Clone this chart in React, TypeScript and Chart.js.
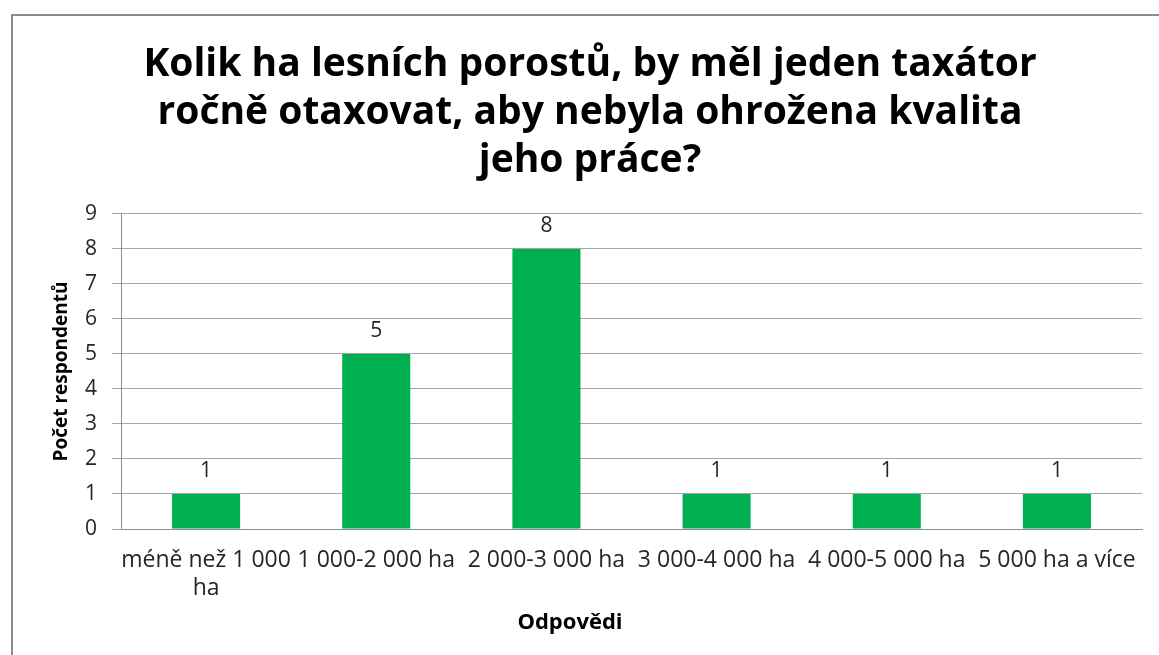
import React, { useEffect, useRef } from "react";
import { Chart, registerables } from "chart.js";

Chart.register(...registerables);

const categories: (string | string[])[] = [
  ["méně než 1 000", "ha"],
  "1 000-2 000 ha",
  "2 000-3 000 ha",
  "3 000-4 000 ha",
  "4 000-5 000 ha",
  "5 000 ha a více",
];
const respondents = [1, 5, 8, 1, 1, 1];
const titleLines = [
  "Kolik ha lesních porostů, by měl jeden taxátor",
  "ročně otaxovat, aby nebyla ohrožena kvalita",
  "jeho práce?",
];
const yAxisTitle = "Počet respondentů";
const xAxisTitle = "Odpovědi";

const FONT = "'Open Sans', 'Liberation Sans', sans-serif";

const frame = {
  id: "frame",
  beforeDraw(chart: any) {
    const ctx = chart.ctx;
    ctx.save();
    ctx.fillStyle = "#ffffff";
    ctx.fillRect(0, 0, chart.width, chart.height);
    ctx.strokeStyle = "#8c8c8c";
    ctx.lineWidth = 2;
    ctx.strokeRect(12, 15, chart.width + 20, chart.height + 20);
    ctx.restore();
  },
  afterDraw(chart: any) {
    const ctx = chart.ctx;
    ctx.save();
    ctx.fillStyle = "#000000";
    ctx.font = `bold 22px ${FONT}`;
    ctx.textAlign = "center";
    ctx.textBaseline = "middle";
    ctx.fillText(xAxisTitle, 570, chart.height - 32);
    ctx.restore();
  },
};

const valueLabels = {
  id: "valueLabels",
  afterDatasetsDraw(chart: any) {
    const ctx = chart.ctx;
    const meta = chart.getDatasetMeta(0);
    ctx.save();
    ctx.fillStyle = "#262626";
    ctx.font = `21px ${FONT}`;
    ctx.textAlign = "center";
    ctx.textBaseline = "middle";
    meta.data.forEach((bar: any, i: number) => {
      ctx.fillText(String(chart.data.datasets[0].data[i]), bar.x, bar.y - 23);
    });
    ctx.restore();
  },
};

export default function App() {
  const ref = useRef<HTMLCanvasElement>(null);
  useEffect(() => {
    document.body.style.margin = "0";
    const chart = new Chart(ref.current!, {
      type: "bar",
      data: {
        labels: categories,
        datasets: [
          {
            data: respondents,
            backgroundColor: "#00B050",
            borderWidth: 0,
            barPercentage: 0.4,
            categoryPercentage: 1,
          },
        ],
      },
      options: {
        animation: false,
        responsive: false,
        layout: { padding: { left: 38, right: 17, top: 0, bottom: 0 } },
        plugins: {
          legend: { display: false },
          tooltip: { enabled: false },
          title: {
            display: true,
            text: titleLines,
            color: "#000000",
            font: { family: FONT, size: 39, weight: "bold", lineHeight: 1.23 },
            padding: { top: 41, bottom: 29 },
          },
        },
        scales: {
          x: {
            grid: { display: false, drawTicks: false },
            border: { color: "#8c8c8c", width: 1 },
            ticks: {
              color: "#262626",
              font: { family: FONT, size: 23, lineHeight: 1.2 },
              padding: 18,
              maxRotation: 0,
              autoSkip: false,
            },
            title: { display: false },
            afterFit(scale: any) {
              scale.height = 126;
            },
          },
          y: {
            min: 0,
            max: 9,
            ticks: {
              stepSize: 1,
              color: "#262626",
              font: { family: FONT, size: 21 },
              padding: 15,
            },
            grid: { color: "#a6a6a6", tickLength: 9, lineWidth: 1 },
            border: { color: "#8c8c8c", width: 1 },
            title: {
              display: true,
              text: yAxisTitle,
              color: "#000000",
              font: { family: FONT, size: 19, weight: "bold" },
              padding: { top: 12, bottom: 0 },
            },
            afterFit(scale: any) {
              scale.width = 83;
            },
          },
        },
      },
      plugins: [frame, valueLabels],
    });
    return () => chart.destroy();
  }, []);
  return (
    <div style={{ position: "absolute", left: 0, top: 0, width: 1159, height: 655 }}>
      <canvas ref={ref} width={1159} height={655} style={{ width: 1159, height: 655 }} />
    </div>
  );
}
